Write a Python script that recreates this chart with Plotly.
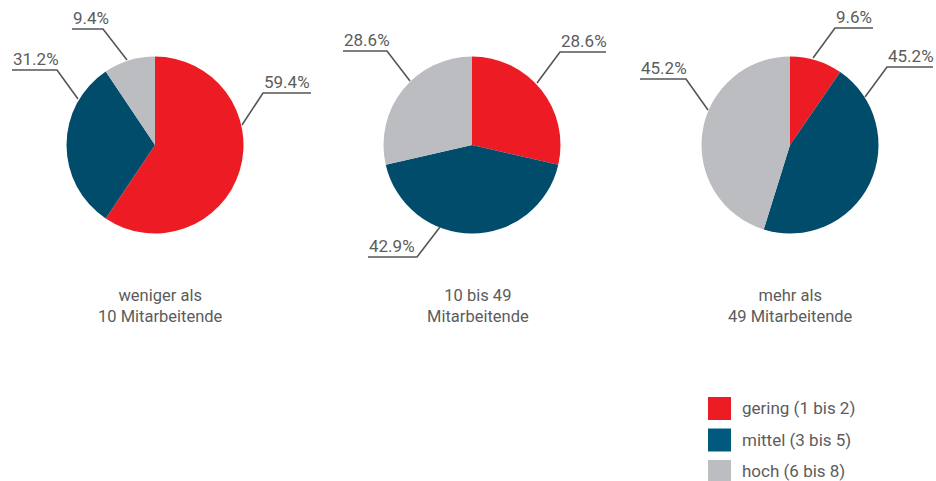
import plotly.graph_objects as go

# Share of firms per innovation level, by company size
groups = ["weniger als<br>10 Mitarbeitende", "10 bis 49<br>Mitarbeitende", "mehr als<br>49 Mitarbeitende"]
categories = ["gering (1 bis 2)", "mittel (3 bis 5)", "hoch (6 bis 8)"]
small_firms = [59.4, 31.2, 9.4]
medium_firms = [28.6, 42.9, 28.6]
large_firms = [9.6, 45.2, 45.2]
series = [small_firms, medium_firms, large_firms]

pie_colors = ["#ED1C24", "#014B6B", "#BCBDC1"]
legend_colors = ["#ED1C24", "#005A80", "#BCBDC1"]

W, H = 936, 481
TEXT = "#5c5c5c"
LINE = "#555555"


def px(x):
    return x / W


def py(y):
    return 1 - y / H


# pie centres and radius in pixels
centres = [(155, 145), (472, 145), (790, 145)]
R = 88.5
# horizontal centre of each caption below its pie
caption_x = [160, 478, 790]

# leader-line geometry per label: start on rim, elbow, far end of underline
leaders = [
    [((242, 125), (263, 93), (311, 93)),
     ((78, 99), (57, 70), (12, 70)),
     ((127, 60), (103, 29), (72, 29))],
    [((537, 83), (560, 52), (606, 52)),
     ((440, 227), (417, 257), (368, 257)),
     ((410, 81), (387, 51), (343, 51))],
    [((813, 58), (835, 28), (873, 28)),
     ((865, 97), (887, 67), (933, 67)),
     ((708, 110), (686, 79), (640, 79))],
]

fig = go.Figure()
shapes = []
annotations = []

for (cx, cy), vals, name, lines, capx in zip(centres, series, groups, leaders, caption_x):
    fig.add_trace(go.Pie(
        values=vals,
        labels=categories,
        marker=dict(colors=pie_colors, line=dict(width=0)),
        sort=False,
        direction="clockwise",
        rotation=0,
        textinfo="none",
        hoverinfo="label+percent",
        showlegend=False,
        domain=dict(x=[px(cx - R), px(cx + R)], y=[py(cy + R), py(cy - R)]),
    ))
    for v, (a, b, c) in zip(vals, lines):
        shapes.append(dict(
            type="path", xref="paper", yref="paper",
            path=f"M {px(a[0])},{py(a[1])} L {px(b[0])},{py(b[1])} L {px(c[0])},{py(c[1])}",
            line=dict(color=LINE, width=1.6),
        ))
        left = min(b[0], c[0])
        annotations.append(dict(
            x=px(left - 1), y=py(b[1] + 1), xref="paper", yref="paper",
            xanchor="left", yanchor="bottom", showarrow=False,
            text=f"{v:.1f}%", font=dict(family="Roboto", size=17, color=TEXT),
        ))
    annotations.append(dict(
        x=px(capx), y=py(305.5), xref="paper", yref="paper",
        xanchor="center", yanchor="middle", showarrow=False,
        text=name, align="center",
        font=dict(family="Roboto", size=16.5, color=TEXT),
    ))

# legend drawn as swatches with labels
for i, (cat, col) in enumerate(zip(categories, legend_colors)):
    top = 397 + i * 31.5
    shapes.append(dict(
        type="rect", xref="paper", yref="paper",
        x0=px(708), x1=px(731), y0=py(top + 23), y1=py(top),
        fillcolor=col, line=dict(width=0),
    ))
    annotations.append(dict(
        x=px(741), y=py(top + 11), xref="paper", yref="paper",
        xanchor="left", yanchor="middle", showarrow=False, borderpad=0,
        text=cat, font=dict(family="Roboto", size=17, color=TEXT),
    ))

fig.update_layout(
    width=W, height=H,
    margin=dict(l=0, r=0, t=0, b=0),
    paper_bgcolor="white", plot_bgcolor="white",
    shapes=shapes, annotations=annotations,
)

fig.write_html("out.html")
